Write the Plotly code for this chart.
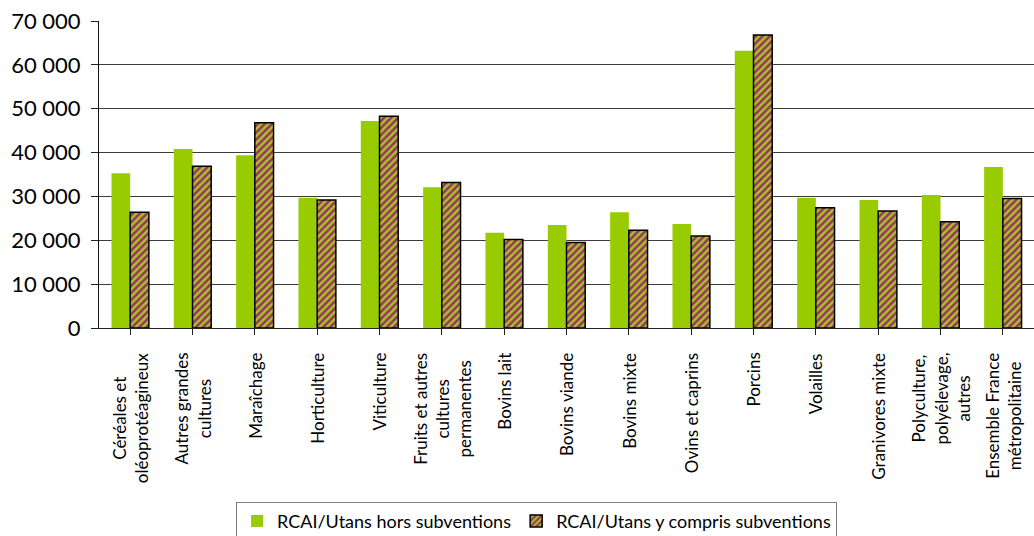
import plotly.graph_objects as go

# Orientations technico-économiques
categories = [
    "Céréales et<br>oléoprotéagineux",
    "Autres grandes<br>cultures",
    "Maraîchage",
    "Horticulture",
    "Viticulture",
    "Fruits et autres<br>cultures<br>permanentes",
    "Bovins lait",
    "Bovins viande",
    "Bovins mixte",
    "Ovins et caprins",
    "Porcins",
    "Volailles",
    "Granivores mixte",
    "Polyculture,<br>polyélevage,<br>autres",
    "Ensemble France<br>métropolitaine",
]

# RCAI par Utans (euros)
hors_subventions = [35300, 40800, 39400, 29700, 47200, 32100, 21700, 23500,
                    26400, 23700, 63200, 29700, 29200, 30300, 36700]
avec_subventions = [26400, 36900, 46800, 29200, 48300, 33200, 20200, 19500,
                    22300, 21000, 66800, 27400, 26700, 24200, 29500]

y_ticks = [0, 10000, 20000, 30000, 40000, 50000, 60000, 70000]
y_tick_text = ["0", "10 000", "20 000", "30 000", "40 000", "50 000", "60 000", "70 000"]

FONT = "Lato, 'Open Sans', sans-serif"
GREEN = "#99CC00"
PURPLE = "#993366"

x_idx = list(range(len(categories)))

fig = go.Figure()
fig.add_trace(go.Bar(
    x=x_idx, y=hors_subventions,
    name="RCAI/Utans hors subventions",
    marker=dict(color=GREEN, line=dict(width=0)),
))
fig.add_trace(go.Bar(
    x=x_idx, y=avec_subventions,
    name="RCAI/Utans y compris subventions",
    marker=dict(
        color="#A8B830",
        line=dict(color="black", width=1.5),
        pattern=dict(shape="/", fgcolor=PURPLE, bgcolor="#A8C420",
                     size=5, solidity=0.5, fillmode="replace"),
    ),
))

# Category labels, rotated and centred line by line below the axis
for i, label in enumerate(categories):
    fig.add_annotation(
        x=i, y=-0.075, xref="x", yref="paper",
        text=label, textangle=-90, showarrow=False,
        xanchor="center", yanchor="top", align="center",
        font=dict(family=FONT, size=17, color="#000000"),
    )

fig.update_layout(
    width=1034, height=536,
    margin=dict(l=99, r=0, t=21, b=208, autoexpand=False),
    paper_bgcolor="white", plot_bgcolor="white",
    barmode="group", bargap=0.4, bargroupgap=0,
    font=dict(family=FONT, color="#000000"),
    showlegend=True,
    legend=dict(
        orientation="h",
        x=0.468, xanchor="center",
        yref="container", y=0.064, yanchor="top",
        bordercolor="#808080", borderwidth=1,
        bgcolor="white",
        font=dict(family=FONT, size=18, color="#000000"),
        itemwidth=30,
        tracegroupgap=0,
    ),
    xaxis=dict(
        range=[-0.5, len(categories) - 0.5],
        tickmode="array", tickvals=x_idx, ticktext=[""] * len(categories),
        showticklabels=False,
        tickson="boundaries", ticks="outside", ticklen=6,
        tickcolor="#222222", tickwidth=1,
        showline=True, linecolor="#222222", linewidth=1,
        showgrid=False, zeroline=False,
    ),
    yaxis=dict(
        range=[0, 70000],
        tickmode="array", tickvals=y_ticks, ticktext=y_tick_text,
        ticks="outside", ticklen=7, tickcolor="#222222", tickwidth=1,
        ticklabelstandoff=6,
        tickfont=dict(family=FONT, size=22, color="#000000"),
        showline=True, linecolor="#111111", linewidth=1,
        showgrid=True, gridcolor="#3c3c3c", gridwidth=1,
        zeroline=False,
    ),
)

fig.write_html("out.html")
